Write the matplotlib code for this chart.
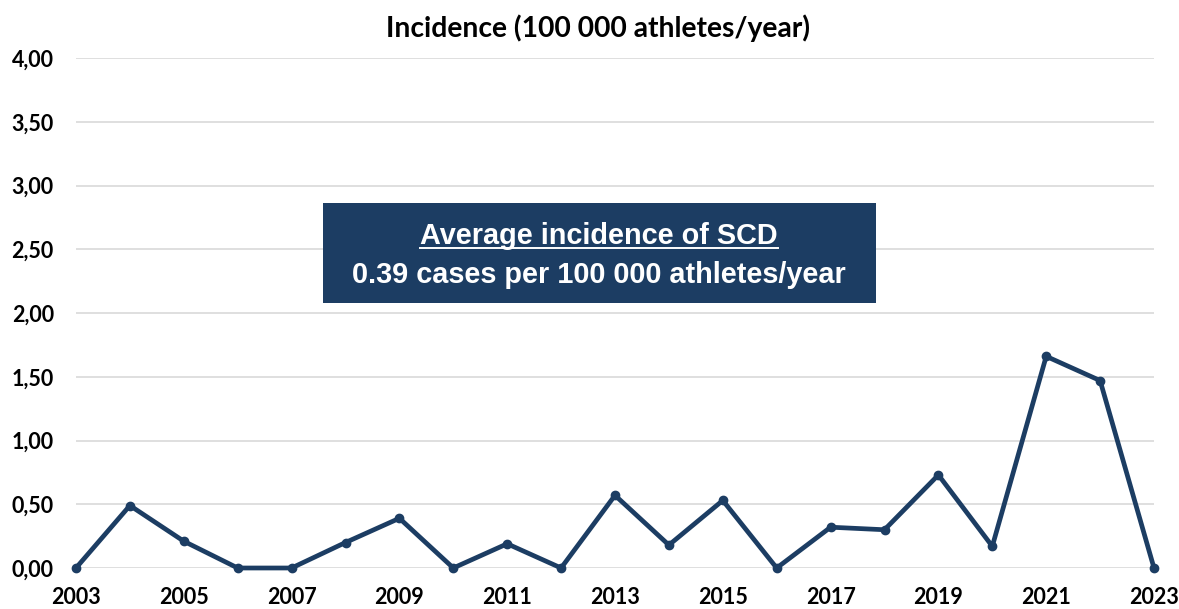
import matplotlib
matplotlib.use("Agg")
import matplotlib.pyplot as plt
from matplotlib.patches import Rectangle
from matplotlib.lines import Line2D

# Incidence of SCD per 100 000 athletes per year
years = list(range(2003, 2024))
incidence = [0.00, 0.49, 0.21, 0.00, 0.00, 0.20, 0.39, 0.00, 0.19, 0.00, 0.57,
             0.18, 0.53, 0.00, 0.32, 0.30, 0.73, 0.17, 1.66, 1.47, 0.00]
y_ticks = [0.0, 0.5, 1.0, 1.5, 2.0, 2.5, 3.0, 3.5, 4.0]
x_ticks = list(range(2003, 2024, 2))

TITLE = "Incidence (100 000 athletes/year)"
BOX_LINE1 = "Average incidence of SCD"
BOX_LINE2 = "0.39 cases per 100 000 athletes/year"

NAVY = "#1c3d63"
GRID = "#d9d9d9"

plt.rcParams['font.family'] = ['Lato', 'DejaVu Sans']

W, H = 1179, 609
fig = plt.figure(figsize=(W / 100, H / 100), dpi=100)
ax = fig.add_axes([76 / W, 1 - 568 / H, (1154 - 76) / W, (568 - 58) / H])

ax.plot(years, incidence, color=NAVY, linewidth=3.4, marker='o', markersize=6,
        solid_joinstyle='round', clip_on=False, zorder=3)

ax.set_xlim(2003, 2023)
ax.set_ylim(0, 4)
ax.set_yticks(y_ticks)
ax.set_yticklabels([f"{v:.2f}".replace('.', ',') for v in y_ticks])
ax.set_xticks(x_ticks)
ax.set_xticklabels([str(x) for x in x_ticks])
ax.tick_params(axis='both', length=0, labelsize=15.5, colors='black')
ax.tick_params(axis='y', pad=16)
ax.tick_params(axis='x', pad=14)
for lab in ax.get_xticklabels() + ax.get_yticklabels():
    lab.set_fontweight('bold')

ax.grid(axis='y', color=GRID, linewidth=1.2)
ax.set_axisbelow(True)
for s in ax.spines.values():
    s.set_visible(False)

fig.text(598 / W, 1 - 28 / H, TITLE, ha='center', va='center',
         fontsize=20.3, fontweight='bold')

# Summary box
box = Rectangle((323 / W, 1 - 303 / H), (876 - 323) / W, (303 - 203) / H,
                transform=fig.transFigure, facecolor=NAVY, edgecolor='none', zorder=5)
fig.patches.append(box)
t1 = fig.text(599 / W, 1 - 244 / H, BOX_LINE1, ha='center', va='baseline',
              fontsize=20.8, fontweight='bold', color='white', zorder=6,
              family=['Liberation Sans', 'DejaVu Sans'])
fig.text(599 / W, 1 - 283 / H, BOX_LINE2, ha='center', va='baseline',
         fontsize=20.8, fontweight='bold', color='white', zorder=6,
         family=['Liberation Sans', 'DejaVu Sans'])

# underline first line
fig.canvas.draw()
bb = t1.get_window_extent(fig.canvas.get_renderer()).transformed(fig.transFigure.inverted())
uy = 1 - 248 / H
fig.lines.append(Line2D([bb.x0, bb.x1], [uy, uy],
                        transform=fig.transFigure, color='white', linewidth=1.4, zorder=7))

fig.savefig("out.png", dpi=100)
